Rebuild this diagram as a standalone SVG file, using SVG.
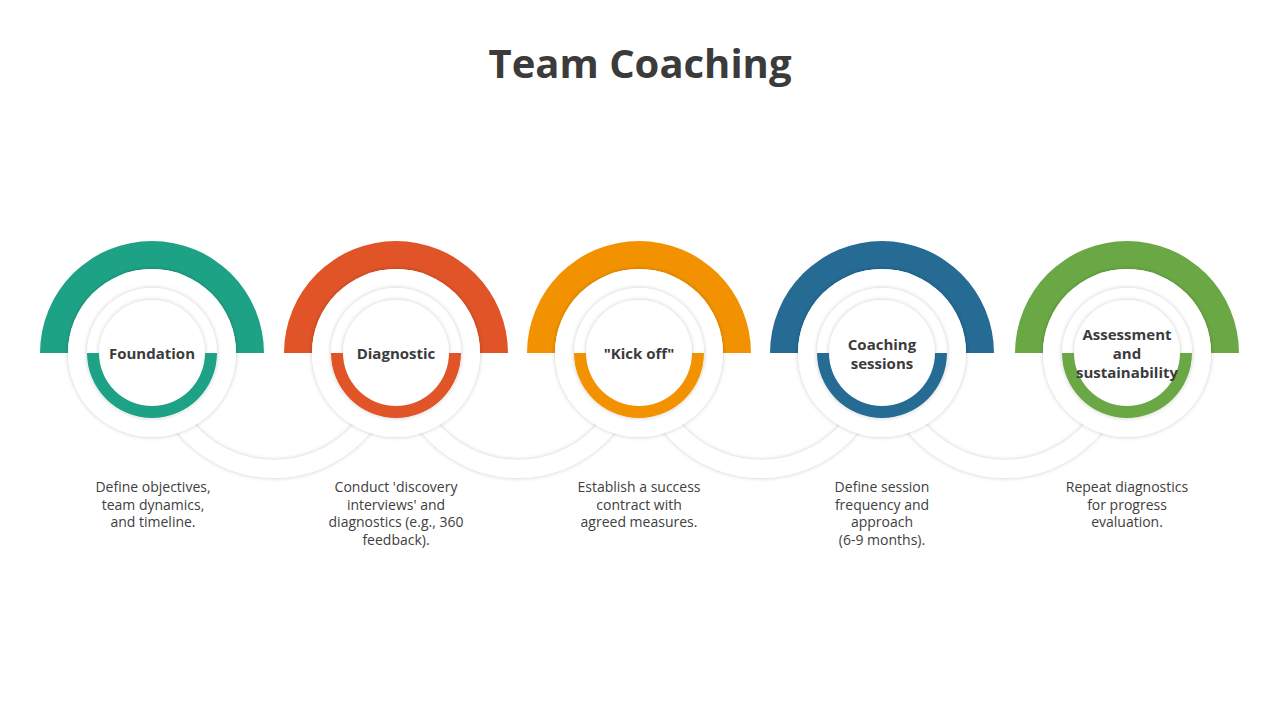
<svg xmlns="http://www.w3.org/2000/svg" width="1280" height="720" viewBox="0 0 1280 720">
<defs>
<filter id="sh" x="-20%" y="-20%" width="140%" height="140%"><feDropShadow dx="0" dy="0" stdDeviation="2" flood-color="#000" flood-opacity="0.22"/></filter>
<g id="node">
<circle r="84" fill="#fff" filter="url(#sh)"/>
<circle r="65" fill="#fff" filter="url(#sh)"/>
<circle r="53" fill="#fff" filter="url(#sh)"/>
</g>
</defs>
<style>
.t{font-family:"Open Sans","Liberation Sans",sans-serif;font-weight:bold;font-size:15px;fill:#3b3b3b;text-anchor:middle}
.d{font-family:"Open Sans","Liberation Sans",sans-serif;font-size:14px;fill:#404040;text-anchor:middle}
.link{fill:none;stroke:#fff;stroke-width:18;filter:url(#sh)}
</style>
<rect width="1280" height="720" fill="#fff"/>
<text x="640" y="78" font-family="Open Sans,Liberation Sans,sans-serif" font-weight="bold" font-size="40" fill="#3b3b3b" text-anchor="middle">Team Coaching</text>
<g id="connectors">
<path class="link" d="M158,353 A116,116 0 0 0 390,353"/>
<path class="link" d="M402,353 A116,116 0 0 0 634,353"/>
<path class="link" d="M645,353 A116,116 0 0 0 877,353"/>
<path class="link" d="M889,353 A116,116 0 0 0 1121,353"/>
</g>
<g id="n1" transform="translate(152,353)">
<path d="M-112,0 A112,112 0 0 1 112,0 H84 A84,84 0 0 0 -84,0 Z" fill="#1ea285"/>
<use href="#node"/>
<path d="M-65,0 A65,65 0 0 0 65,0 H53 A53,53 0 0 1 -53,0 Z" fill="#1ea285"/>
<text class="t" y="6">Foundation</text>
</g>
<g id="n2" transform="translate(396,353)">
<path d="M-112,0 A112,112 0 0 1 112,0 H84 A84,84 0 0 0 -84,0 Z" fill="#e05428"/>
<use href="#node"/>
<path d="M-65,0 A65,65 0 0 0 65,0 H53 A53,53 0 0 1 -53,0 Z" fill="#e05428"/>
<text class="t" y="6">Diagnostic</text>
</g>
<g id="n3" transform="translate(639,353)">
<path d="M-112,0 A112,112 0 0 1 112,0 H84 A84,84 0 0 0 -84,0 Z" fill="#f39200"/>
<use href="#node"/>
<path d="M-65,0 A65,65 0 0 0 65,0 H53 A53,53 0 0 1 -53,0 Z" fill="#f39200"/>
<text class="t" y="6">"Kick off"</text>
</g>
<g id="n4" transform="translate(882,353)">
<path d="M-112,0 A112,112 0 0 1 112,0 H84 A84,84 0 0 0 -84,0 Z" fill="#256b94"/>
<use href="#node"/>
<path d="M-65,0 A65,65 0 0 0 65,0 H53 A53,53 0 0 1 -53,0 Z" fill="#256b94"/>
<text class="t" y="-3">Coaching</text>
<text class="t" y="16">sessions</text>
</g>
<g id="n5" transform="translate(1127,353)">
<path d="M-112,0 A112,112 0 0 1 112,0 H84 A84,84 0 0 0 -84,0 Z" fill="#6aa845"/>
<use href="#node"/>
<path d="M-65,0 A65,65 0 0 0 65,0 H53 A53,53 0 0 1 -53,0 Z" fill="#6aa845"/>
<text class="t" y="-13">Assessment</text>
<text class="t" y="6">and</text>
<text class="t" y="25">sustainability</text>
</g>
<g id="descriptions">
<text class="d" x="153" y="492">Define objectives,</text>
<text class="d" x="153" y="510">team dynamics,</text>
<text class="d" x="153" y="527">and timeline.</text>
<text class="d" x="396" y="492">Conduct 'discovery</text>
<text class="d" x="396" y="510">interviews' and</text>
<text class="d" x="396" y="527">diagnostics (e.g., 360</text>
<text class="d" x="396" y="545">feedback).</text>
<text class="d" x="639" y="492">Establish a success</text>
<text class="d" x="639" y="510">contract with</text>
<text class="d" x="639" y="527">agreed measures.</text>
<text class="d" x="882" y="492">Define session</text>
<text class="d" x="882" y="510">frequency and</text>
<text class="d" x="882" y="527">approach</text>
<text class="d" x="882" y="545">(6-9 months).</text>
<text class="d" x="1127" y="492">Repeat diagnostics</text>
<text class="d" x="1127" y="510">for progress</text>
<text class="d" x="1127" y="527">evaluation.</text>
</g>
</svg>
